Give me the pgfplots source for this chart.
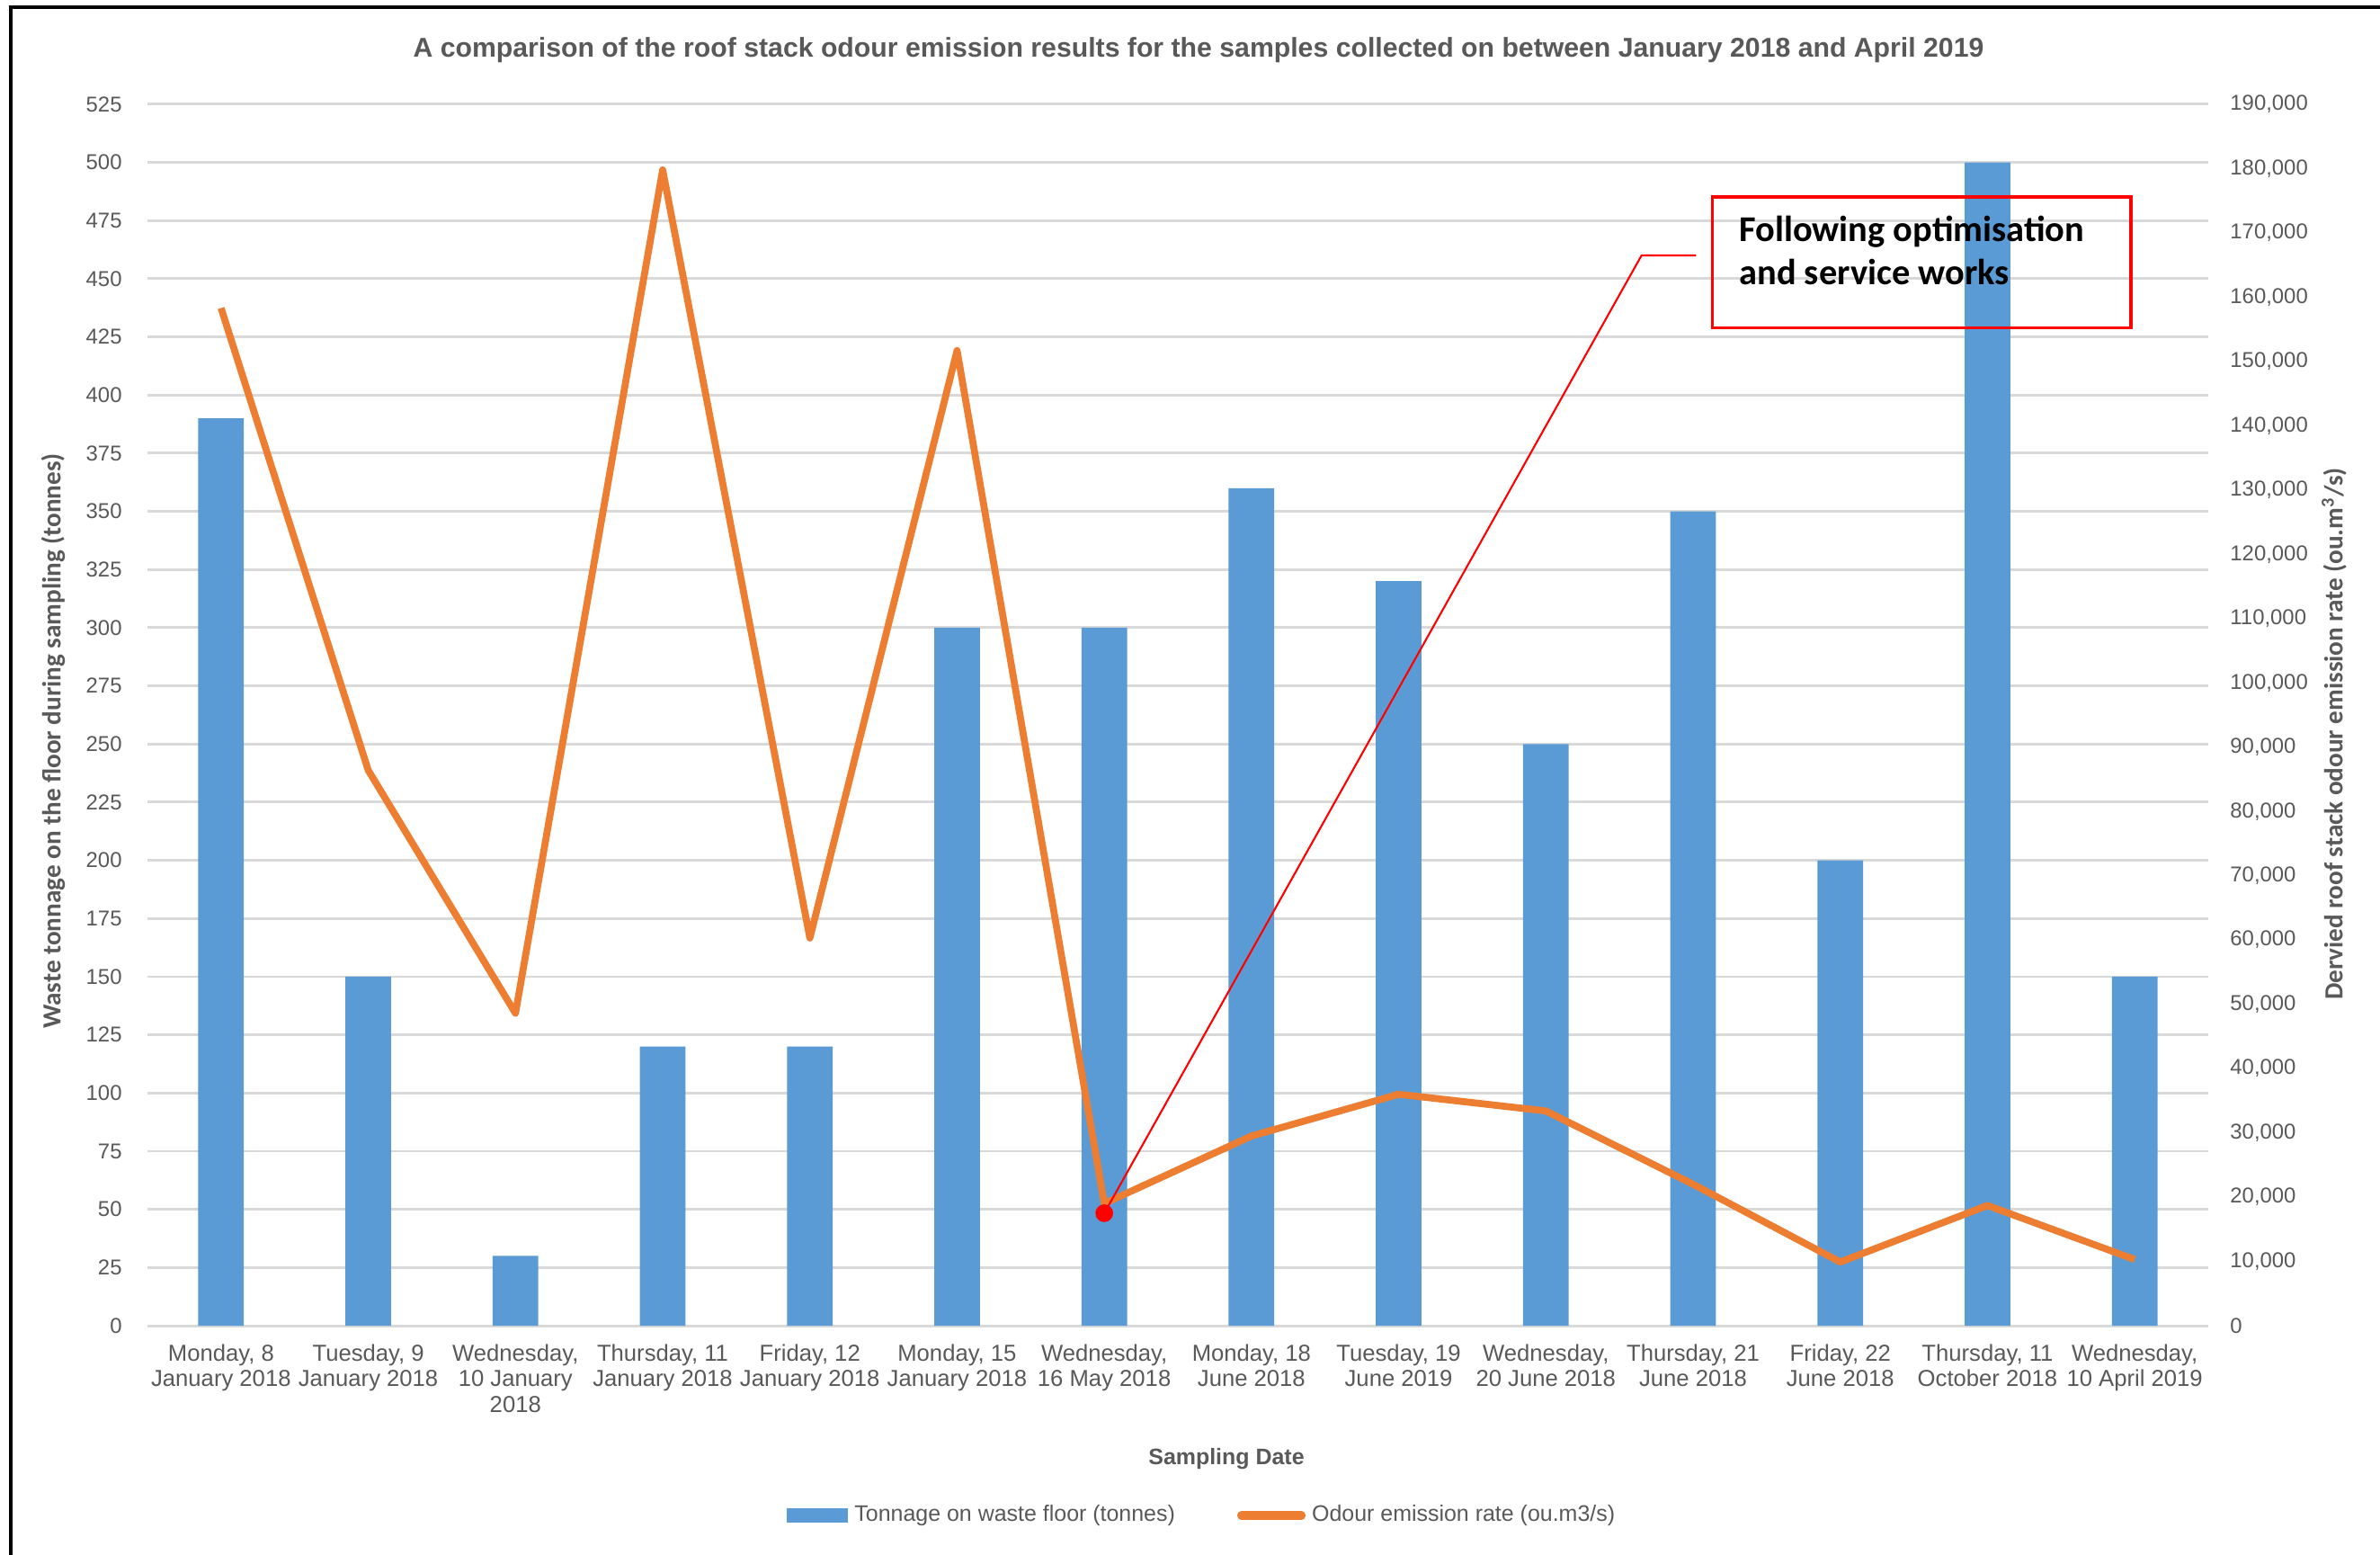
\documentclass[border=0pt]{standalone}
\usepackage{fontspec}
\setmainfont{Liberation Sans}
\newfontfamily\calibri{Carlito}
\usepackage{pgfplots}
\pgfplotsset{compat=1.18}
\definecolor{barblue}{HTML}{5B9BD5}
\definecolor{lineorange}{HTML}{ED7D31}
\definecolor{txtgray}{HTML}{595959}
\definecolor{gridgray}{HTML}{D9D9D9}

\begin{document}
\begin{tikzpicture}
\useasboundingbox (0,0) rectangle (26.47,17.28);
\fill[white] (0,0) rectangle (26.47,17.28);
\draw[black, line width=0.9pt] (0.12,-0.1) -- (0.12,17.20) -- (26.6,17.20);

\node[font=\bfseries\fontsize{8.6}{10}\selectfont, text=txtgray] at (13.33,16.72)
  {A comparison of the roof stack odour emission results for the samples collected on between January 2018 and April 2019};
\node[rotate=90, font=\calibri\bfseries\fontsize{8.3}{10}\selectfont, text=txtgray] at (0.59,9.04)
  {Waste tonnage on the floor during sampling (tonnes)};
\node[rotate=90, font=\calibri\bfseries\fontsize{8.3}{10}\selectfont, text=txtgray] at (25.96,9.12)
  {Dervied roof stack odour emission rate (ou.m\textsuperscript{3}/s)};
\node[font=\bfseries\fontsize{7.1}{8}\selectfont, text=txtgray] at (13.64,1.06) {Sampling Date};

\begin{axis}[
  at={(1.64cm,2.54cm)}, anchor=south west,
  scale only axis, width=22.92cm, height=13.58cm,
  xmin=-0.5, xmax=13.5, ymin=0, ymax=525,
  ytick distance=25,
  xtick={0,...,13},
  xticklabels={{Monday, 8\\January 2018},{Tuesday, 9\\January 2018},{Wednesday,\\10 January\\2018},{Thursday, 11\\January 2018},{Friday, 12\\January 2018},{Monday, 15\\January 2018},{Wednesday,\\16 May 2018},{Monday, 18\\June 2018},{Tuesday, 19\\June 2019},{Wednesday,\\20 June 2018},{Thursday, 21\\June 2018},{Friday, 22\\June 2018},{Thursday, 11\\October 2018},{Wednesday,\\10 April 2019}},
  major tick length=0,
  axis line style={draw=none},
  ymajorgrids, grid style={gridgray, line width=0.85pt},
  ybar, bar width=0.31,
  /pgf/number format/assume math mode=true,
  yticklabel style={font=\fontsize{6.8}{8}\selectfont, text=txtgray, xshift=-0.16cm},
  xticklabel style={font=\fontsize{7.3}{8.2}\selectfont, text=txtgray, align=center, yshift=-0.08cm},
  clip=false,
]
\addplot[fill=barblue, draw=none] coordinates {
  (0,390) (1,150) (2,30) (3,120) (4,120) (5,300) (6,300)
  (7,360) (8,320) (9,250) (10,350) (11,200) (12,500) (13,150)};
\end{axis}

\begin{axis}[
  at={(1.64cm,2.54cm)}, anchor=south west,
  scale only axis, width=22.92cm, height=13.58cm,
  xmin=-0.5, xmax=13.5, ymin=0, ymax=190000,
  axis x line=none, axis y line*=right,
  axis line style={draw=none},
  major tick length=0,
  ytick distance=10000, scaled y ticks=false,
  /pgf/number format/assume math mode=true,
  yticklabel style={font=\fontsize{6.8}{8}\selectfont, text=txtgray, anchor=west, xshift=0.12cm,
    /pgf/number format/.cd, fixed, 1000 sep={,}},
  clip=false,
  legend style={at={(0.5127,-0.1554)}, anchor=center, draw=none, fill=none,
    legend columns=2, font=\fontsize{7.1}{8}\selectfont, text=txtgray,
    /tikz/every even column/.append style={column sep=0.62cm}},
  legend cell align=left,
]
\addlegendimage{legend image code/.code={\fill[barblue] (0cm,-0.07cm) rectangle (0.67cm,0.07cm);}}
\addlegendentry{Tonnage on waste floor (tonnes)}
\addplot[lineorange, line width=2.2pt, line join=round, mark=none,
  legend image code/.code={\draw[lineorange, line width=2.6pt, line cap=round] (0cm,0cm) -- (0.67cm,0cm);}]
  coordinates {
  (0,158300) (1,86400) (2,48600) (3,179800) (4,60300) (5,151700) (6,19000)
  (7,29500) (8,36000) (9,33400) (10,22000) (11,9900) (12,18700) (13,10300)};
\addlegendentry{Odour emission rate (ou.m3/s)}
\addplot[only marks, mark=*, mark size=2.6pt, red, forget plot] coordinates {(6,17500)};
\draw[red, line width=0.6pt] (axis cs:6,17500) -- (axis cs:9.65,166500) -- (axis cs:10.02,166500);
\draw[red, line width=0.9pt, fill=none] (axis cs:10.13,175600) rectangle (axis cs:12.975,155200);
\node[anchor=base west, inner sep=0, font=\calibri\bfseries\fontsize{11.5}{13}\selectfont] at (axis cs:10.31,168600) {Following optimisation};
\node[anchor=base west, inner sep=0, font=\calibri\bfseries\fontsize{11.5}{13}\selectfont] at (axis cs:10.31,161900) {and service works};
\end{axis}
\end{tikzpicture}
\end{document}
